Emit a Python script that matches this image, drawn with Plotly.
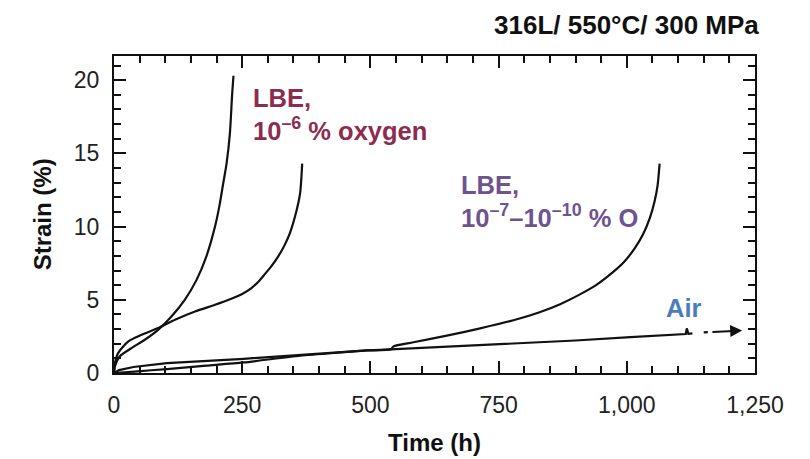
import plotly.graph_objects as go

# ---- data (time in h, strain in %) ----
lbe6_fast_t = [0, 1.7, 11, 34, 60, 86, 112, 138, 161, 180, 197, 206, 213, 219.5, 226, 230.5, 233]
lbe6_fast_s = [0, 0.45, 1.13, 1.7, 2.27, 2.95, 3.86, 5.0, 6.36, 7.95, 10.0, 11.5, 12.96, 14.3, 16.37, 19.1, 20.3]

lbe6_slow_t = [0, 2, 8, 28, 54, 86, 119, 158, 197, 225, 250, 268, 282, 294, 307, 320, 333, 343, 356, 363, 367]
lbe6_slow_s = [0, 0.7, 1.36, 2.16, 2.61, 3.07, 3.64, 4.2, 4.66, 5.02, 5.4, 5.8, 6.25, 6.75, 7.3, 7.95, 8.75, 9.55, 11.1, 12.3, 14.3]

lbe7_t = [0, 40, 103, 180, 253, 363, 450, 493, 540, 545, 584, 649, 714, 779, 830, 870, 905, 940, 970, 995, 1015, 1032, 1045, 1054, 1060, 1064]
lbe7_s = [0, 0.1, 0.27, 0.5, 0.72, 1.18, 1.42, 1.54, 1.62, 1.82, 2.1, 2.55, 3.05, 3.6, 4.15, 4.7, 5.3, 6.0, 6.8, 7.6, 8.5, 9.5, 10.6, 11.7, 12.8, 14.3]

air_t = [0, 10, 38, 103, 253, 363, 493, 519, 617, 700, 812, 900, 1007, 1115, 1117, 1120, 1128]
air_s = [0, 0.2, 0.41, 0.68, 0.97, 1.25, 1.55, 1.58, 1.74, 1.88, 2.08, 2.22, 2.45, 2.66, 3.05, 2.68, 2.7]

# arrow showing the air test continuing
air_arrow_t = [1150, 1225]
air_arrow_s = [2.78, 2.9]

x_range = [0, 1250]
y_range = [0, 21.65]
x_tickvals = [0, 250, 500, 750, 1000, 1250]
y_tickvals = [0, 5, 10, 15, 20]

FONT = "Liberation Sans, Arial, sans-serif"

fig = go.Figure()
for t, s, shape in [(lbe6_fast_t, lbe6_fast_s, "spline"), (lbe6_slow_t, lbe6_slow_s, "spline"),
                    (lbe7_t, lbe7_s, "spline"), (air_t, air_s, "linear")]:
    fig.add_trace(go.Scatter(x=t, y=s, mode="lines",
                             line=dict(color="#111111", width=2.2, shape=shape, smoothing=0.7),
                             showlegend=False, hoverinfo="skip"))

# arrow after "air" curve
fig.add_trace(go.Scatter(x=[air_arrow_t[0], air_arrow_t[0] + 8], y=[air_arrow_s[0], air_arrow_s[0] + 0.01],
                         mode="lines", line=dict(color="#111111", width=2.2),
                         showlegend=False, hoverinfo="skip"))
fig.add_annotation(x=air_arrow_t[1], y=air_arrow_s[1], ax=air_arrow_t[0] + 14, ay=air_arrow_s[0] + 0.02,
                   xref="x", yref="y", axref="x", ayref="y", text="",
                   showarrow=True, arrowhead=2, arrowsize=1.2, arrowwidth=2, arrowcolor="#111111")

ann_font = dict(family=FONT, size=25.5)
fig.add_annotation(x=267, y=19.85, xref="x", yref="y", xanchor="left", yanchor="top",
                   text="<b>LBE,<br>10<sup>–6</sup> % oxygen</b>", showarrow=False, align="left",
                   font=dict(color="#8C2D4F", **ann_font))
fig.add_annotation(x=673, y=13.9, xref="x", yref="y", xanchor="left", yanchor="top",
                   text="<b>LBE,<br>10<sup>–7</sup>–10<sup>–10</sup> % O</b>", showarrow=False, align="left",
                   font=dict(color="#6F5391", **ann_font))
fig.add_annotation(x=1072, y=5.5, xref="x", yref="y", xanchor="left", yanchor="top",
                   text="<b>Air</b>", showarrow=False, align="left",
                   font=dict(color="#4A7EBB", **ann_font))

# title and axis titles
fig.add_annotation(x=1.01, y=1.098, xref="paper", yref="paper", xanchor="right", yanchor="middle",
                   text="<b>316L/ 550°C/ 300 MPa</b>", showarrow=False,
                   font=dict(family=FONT, size=26, color="#111111"))
fig.add_annotation(x=-0.111, y=0.5, xref="paper", yref="paper", xanchor="center", yanchor="middle",
                   text="<b>Strain (%)</b>", textangle=-90, showarrow=False,
                   font=dict(family=FONT, size=24, color="#111111"))
fig.add_annotation(x=0.5, y=-0.22, xref="paper", yref="paper", xanchor="center", yanchor="middle",
                   text="<b>Time (h)</b>", showarrow=False,
                   font=dict(family=FONT, size=24, color="#111111"))

axis_common = dict(showline=True, linecolor="#111111", linewidth=2, mirror="allticks",
                   ticks="inside", ticklen=12, tickwidth=1.6, tickcolor="#111111",
                   showgrid=False, zeroline=False,
                   tickfont=dict(family=FONT, size=23, color="#222222"))

fig.update_xaxes(range=x_range, tickvals=x_tickvals, tickformat=",d",
                 minor=dict(dtick=50, ticks="inside", ticklen=7, tickwidth=1.6, tickcolor="#111111", showgrid=False),
                 ticklabelstandoff=10, **axis_common)
fig.update_yaxes(range=y_range, tickvals=y_tickvals,
                 minor=dict(dtick=1, ticks="inside", ticklen=7, tickwidth=1.6, tickcolor="#111111", showgrid=False),
                 ticklabelstandoff=8, **axis_common)

# page body has an 8px margin, so the figure is 8px smaller than the window
fig.update_layout(width=802, height=451, margin=dict(l=106, r=55, t=48, b=86),
                  plot_bgcolor="white", paper_bgcolor="white",
                  font=dict(family=FONT))

fig.write_html("out.html")
